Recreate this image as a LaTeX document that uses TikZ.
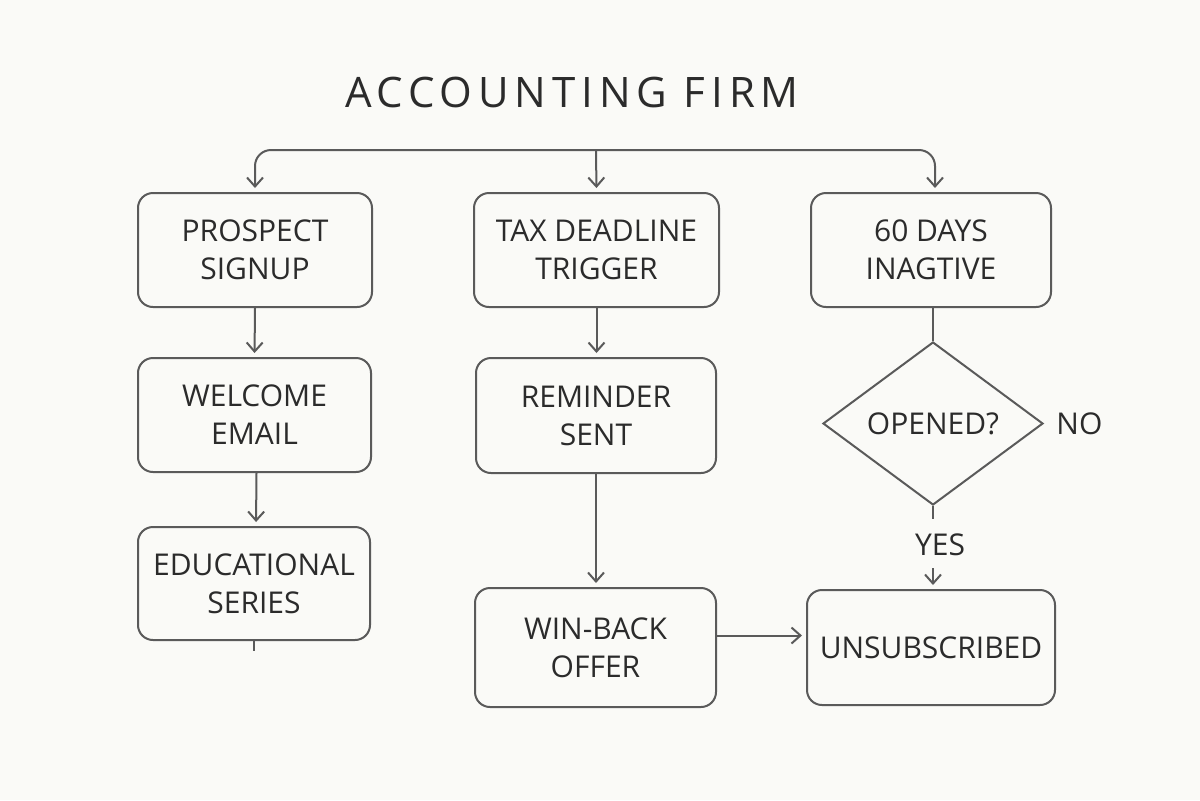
\documentclass[tikz,border=0pt]{standalone}
\usepackage{fontspec}
\setmainfont{Open Sans}
\newfontfamily\titlefont[LetterSpace=14]{Open Sans}
\usetikzlibrary{arrows.meta,shapes.geometric}
\definecolor{bg}{HTML}{FAFAF7}
\definecolor{ink}{HTML}{2B2B2B}
\definecolor{stroke}{HTML}{5A5A5A}
\begin{document}
\begin{tikzpicture}[x=0.5pt,y=-0.5pt,
  box/.style={draw=stroke, line width=1pt, rounded corners=7.5pt, align=center, text=ink,
    font=\fontsize{15}{19}\selectfont, inner sep=0pt},
  lbl/.style={text=ink, font=\fontsize{15}{19}\selectfont, inner sep=0pt},
  arr/.style={draw=stroke, line width=1pt, -{Straight Barb[length=4.5pt,width=8pt]}, shorten >=2pt},
  ln/.style={draw=stroke, line width=1pt}]
\fill[bg] (0,0) rectangle (1200,800);
\useasboundingbox (0,0) rectangle (1200,800);

\node[text=ink, font=\titlefont\fontsize{21}{25}\selectfont] (title) at (572,92) {ACCOUNTING FIRM};

\node[box, minimum width=117pt, minimum height=57pt] (p1) at (255,250) {PROSPECT\\SIGNUP};
\node[box, minimum width=122.5pt, minimum height=57pt] (p2) at (596.5,250) {TAX DEADLINE\\TRIGGER};
\node[box, minimum width=120pt, minimum height=57pt] (p3) at (931,250) {60 DAYS\\INAGTIVE};
\node[box, minimum width=116.5pt, minimum height=57pt] (p4) at (254.5,415) {WELCOME\\EMAIL};
\node[box, minimum width=120pt, minimum height=57.5pt] (p5) at (596,415.5) {REMINDER\\SENT};
\node[box, minimum width=116pt, minimum height=56.5pt] (p6) at (254,583.5) {EDUCATIONAL\\SERIES};
\node[box, minimum width=120.5pt, minimum height=59.5pt] (p7) at (595.5,647.5) {WIN-BACK\\OFFER};
\node[box, minimum width=124pt, minimum height=57.5pt] (p8) at (931,647.5) {UNSUBSCRIBED};
\node[draw=stroke, line width=1pt, shape=diamond, inner sep=0pt, aspect=1.35,
  minimum width=110pt, minimum height=81.5pt, text=ink, font=\fontsize{15}{19}\selectfont] (d) at (933,423.5) {OPENED?};
\node[lbl, anchor=west] (no) at ([xshift=6pt]d.east) {NO};
\node[lbl] (yes) at (940,545) {YES};

\coordinate (top) at (596,150);
\draw[arr, rounded corners=8pt] (top) -| (p1.north);
\draw[arr, rounded corners=8pt] (top) -| ([xshift=2pt]p3.north);
\draw[arr] (top) -- (p2.north);

\draw[arr] (p1.south) -- (p4.north);
\draw[arr] (p2.south) -- (p5.north -| p2.south);
\draw[arr] ([xshift=1pt]p4.south) -- ([xshift=1pt]p6.north);
\draw[ln] (p6.south) -- ++(0,10);
\draw[arr] (p5.south) -- (p7.north -| p5.south);
\draw[arr] ([yshift=6pt]p7.east) -- ([yshift=6pt]p8.west);
\draw[ln] (d.north |- p3.south) -- (d.north);
\draw[ln] (d.south) -- ++(0,13);
\draw[arr] ([yshift=-6pt]yes.south -| d.south) -- (p8.north -| d.south);
\end{tikzpicture}
\end{document}
